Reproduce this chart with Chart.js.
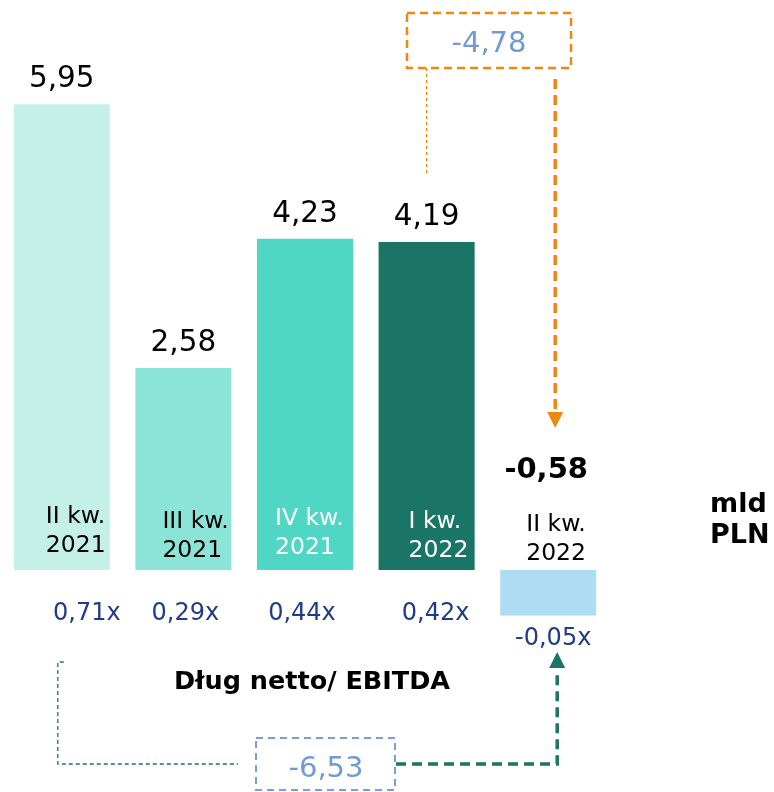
<!DOCTYPE html>
<html lang="pl">
<head>
<meta charset="utf-8">
<title>Dług netto</title>
<script src="https://cdn.jsdelivr.net/npm/chart.js@4/dist/chart.umd.min.js"></script>
<style>
  html, body { margin: 0; padding: 0; background: #fff; }
  #wrap { position: relative; width: 774px; height: 792px; }
</style>
</head>
<body>
<div id="wrap"><canvas id="chartDebt"></canvas></div>
<script>
"use strict";

// ── Data ──
const QUARTERS = [["II kw.", "2021"], ["III kw.", "2021"], ["IV kw.", "2021"], ["I kw.", "2022"], ["II kw.", "2022"]];
const NET_DEBT = [5.95, 2.58, 4.23, 4.19, -0.58];           // mld PLN
const DEBT_EBITDA = [0.71, 0.29, 0.44, 0.42, -0.05];        // x
const CHANGE_QOQ = -4.78;                                  // I kw. 2022 -> II kw. 2022
const CHANGE_YOY = -6.53;                                  // II kw. 2021 -> II kw. 2022
const UNIT_LINES = ["mld", "PLN"];
const RATIO_TITLE = "Dług netto/ EBITDA";

// ── Style ──
const BAR_COLORS = ["#C4F0E7", "#8BE4D7", "#50D6C5", "#1B7566", "#AEDDF3"];
const CAT_TEXT = ["#000", "#000", "#fff", "#fff", "#000"];
const CAT_DX = [-16, -21, -30, -18, -22];     // label left edge vs bar centre
const CAT_DY = [-47, -42, -45, -42, -39];     // first baseline vs zero line
const RATIO_DX = [25, 2, -3, 9, 5];
const ORANGE = "#F0870F";
const GREEN = "#1B7566";
const BLUE_TXT = "#7199D3";
const NAVY = "#203C86";
const FONT = "'DejaVu Sans', Verdana, sans-serif";

const fmt = v => v.toFixed(2).replace(".", ",");

function dashed(ctx, pts, color, width, dash) {
  ctx.save();
  ctx.strokeStyle = color;
  ctx.lineWidth = width;
  ctx.setLineDash(dash);
  ctx.beginPath();
  pts.forEach((p, i) => i ? ctx.lineTo(p[0], p[1]) : ctx.moveTo(p[0], p[1]));
  ctx.stroke();
  ctx.restore();
}

function triangle(ctx, x, tipY, baseY, half, color) {
  ctx.save();
  ctx.fillStyle = color;
  ctx.beginPath();
  ctx.moveTo(x, tipY);
  ctx.lineTo(x - half, baseY);
  ctx.lineTo(x + half, baseY);
  ctx.closePath();
  ctx.fill();
  ctx.restore();
}

const annotations = {
  id: "annotations",
  afterDatasetsDraw(chart) {
    const { ctx, scales: { x, y } } = chart;
    const meta = chart.getDatasetMeta(0);
    const y0 = y.getPixelForValue(0);
    const last = NET_DEBT.length - 1;
    ctx.save();

    // value labels
    ctx.textAlign = "center";
    ctx.textBaseline = "alphabetic";
    ctx.fillStyle = "#000";
    NET_DEBT.forEach((v, i) => {
      const xc = x.getPixelForValue(i);
      if (v >= 0) {
        ctx.font = "29.5px " + FONT;
        ctx.fillText(fmt(v), xc, y.getPixelForValue(v) - 17);
      } else {
        ctx.font = "bold 29px " + FONT;
        ctx.fillText(fmt(v), xc - 2, y0 - 92);
      }
    });

    // quarter labels
    ctx.textAlign = "left";
    ctx.font = "23.5px " + FONT;
    QUARTERS.forEach((q, i) => {
      const xc = x.getPixelForValue(i);
      ctx.fillStyle = CAT_TEXT[i];
      ctx.fillText(q[0], xc + CAT_DX[i], y0 + CAT_DY[i]);
      ctx.fillText(q[1], xc + CAT_DX[i], y0 + CAT_DY[i] + 29);
    });

    // Dług netto / EBITDA
    ctx.textAlign = "center";
    ctx.font = "24px " + FONT;
    ctx.fillStyle = NAVY;
    DEBT_EBITDA.forEach((r, i) => {
      const xc = x.getPixelForValue(i) + RATIO_DX[i];
      const by = r >= 0 ? y0 + 50 : y.getPixelForValue(NET_DEBT[i]) + 30;
      ctx.fillText(fmt(r) + "x", xc, by);
    });

    ctx.font = "bold 25.5px " + FONT;
    ctx.fillStyle = "#000";
    ctx.fillText(RATIO_TITLE, 312, y0 + 119);

    // unit
    ctx.textAlign = "left";
    ctx.font = "bold 27px " + FONT;
    UNIT_LINES.forEach((t, i) => ctx.fillText(t, 710, y0 - 58 + i * 31));

    // quarter-on-quarter change (orange)
    const xq = meta.data[last - 1].x;
    const xl = meta.data[last].x;
    dashed(ctx, [[xq, 68], [xq, 175]], ORANGE, 1.3, [3, 3]);
    dashed(ctx, [[407, 13], [571, 13], [571, 68], [407, 68], [407, 13]], ORANGE, 2.5, [8, 5]);
    ctx.textAlign = "center";
    ctx.font = "29px " + FONT;
    ctx.fillStyle = BLUE_TXT;
    ctx.fillText(fmt(CHANGE_QOQ), 489, 52);
    dashed(ctx, [[xl + 7, 79], [xl + 7, 410]], ORANGE, 3.5, [10, 6]);
    triangle(ctx, xl + 7, 428, 412, 8, ORANGE);

    // year-on-year change (green)
    const xf = meta.data[0].x - 4;
    dashed(ctx, [[xf + 6, 662], [xf, 662], [xf, 764], [238, 764]], GREEN, 1.3, [4, 3]);
    dashed(ctx, [[256, 738], [395, 738], [395, 790], [256, 790], [256, 738]], "#7A9ED6", 2, [7, 5]);
    ctx.fillStyle = BLUE_TXT;
    ctx.fillText(fmt(CHANGE_YOY), 326, 777);
    dashed(ctx, [[396, 764], [xl + 9, 764], [xl + 9, 670]], GREEN, 3.5, [10, 6]);
    triangle(ctx, xl + 9, 652, 668, 8, GREEN);

    ctx.restore();
  }
};

new Chart(document.getElementById("chartDebt").getContext("2d"), {
  type: "bar",
  data: {
    labels: QUARTERS.map(q => q.join(" ")),
    datasets: [{
      data: NET_DEBT,
      backgroundColor: BAR_COLORS,
      borderWidth: 0,
      barPercentage: 0.79,
      categoryPercentage: 1
    }]
  },
  options: {
    responsive: true,
    maintainAspectRatio: false,
    animation: false,
    layout: { padding: { left: 1, right: 165, top: 0, bottom: 0 } },
    plugins: { legend: { display: false }, tooltip: { enabled: false } },
    scales: {
      x: { display: false },
      y: { display: false, min: -2.835, max: 7.28 }
    }
  },
  plugins: [annotations]
});
</script>
</body>
</html>
